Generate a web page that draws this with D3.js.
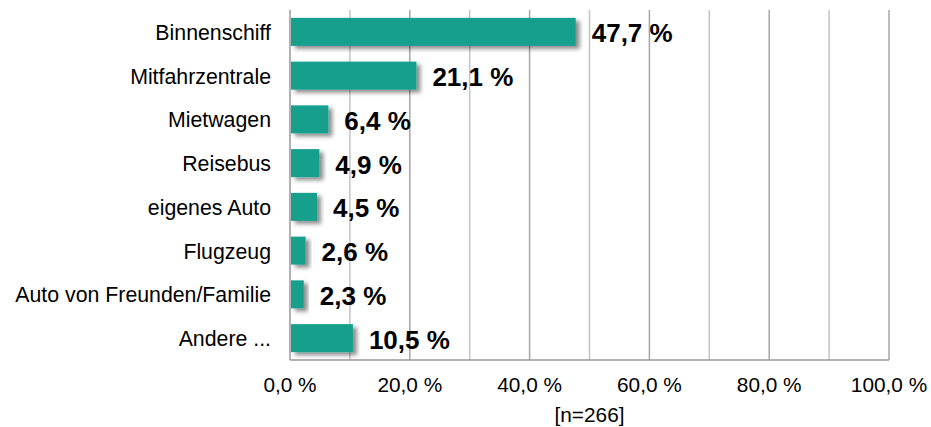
<!DOCTYPE html>
<html lang="de">
  <head>
    <meta charset="utf-8">
    <style>
      body { margin: 0; background: #fff; }
      text { font-family: "Liberation Sans", Arial, sans-serif; fill: #000; }
    </style>
  </head>
  <body>
  <div id="chart"></div>

  <script src="https://d3js.org/d3.v7.min.js"></script>
  <script>

// data
var categories = ["Binnenschiff", "Mitfahrzentrale", "Mietwagen", "Reisebus",
                  "eigenes Auto", "Flugzeug", "Auto von Freunden/Familie", "Andere ..."]
var values = [47.7, 21.1, 6.4, 4.9, 4.5, 2.6, 2.3, 10.5]
var xTicks = [0, 20, 40, 60, 80, 100]
var gridTicks = [10, 20, 30, 40, 50, 60, 70, 80, 90, 100]
var note = "[n=266]"

var width = 931,
    height = 427,
    margin = {top: 10, right: 42, bottom: 67, left: 290}

var fmt = function(v) { return d3.format(".1f")(v).replace(".", ",") + " %" }

var svg = d3.select("#chart")
  .append("svg")
    .attr("width", width)
    .attr("height", height)

// soft drop shadow like the office chart
var filter = svg.append("defs").append("filter")
    .attr("id", "shadow")
    .attr("x", "-20%").attr("y", "-20%")
    .attr("width", "160%").attr("height", "160%")
filter.append("feDropShadow")
    .attr("dx", 4).attr("dy", 3)
    .attr("stdDeviation", 2.2)
    .attr("flood-color", "#000")
    .attr("flood-opacity", 0.45)

var x = d3.scaleLinear()
  .domain([0, 100])
  .range([margin.left, width - margin.right])

var y = d3.scaleBand()
  .domain(categories)
  .range([margin.top, height - margin.bottom])
  .paddingInner(0.36)
  .paddingOuter(0.18)

// vertical gridlines
svg.append("g")
  .selectAll("line")
  .data(gridTicks)
  .join("line")
    .attr("x1", function(d) { return x(d) })
    .attr("x2", function(d) { return x(d) })
    .attr("y1", margin.top)
    .attr("y2", height - margin.bottom)
    .attr("stroke", function(d) { return d % 20 == 0 ? "#a6a6a6" : "#c4c4c4" })
    .attr("stroke-width", 1.5)

// axis lines
svg.append("line")
    .attr("x1", x(0)).attr("x2", x(0))
    .attr("y1", margin.top).attr("y2", height - margin.bottom)
    .attr("stroke", "#999").attr("stroke-width", 1.5)
svg.append("line")
    .attr("x1", x(0)).attr("x2", x(100))
    .attr("y1", height - margin.bottom).attr("y2", height - margin.bottom)
    .attr("stroke", "#999").attr("stroke-width", 1.5)

// bars
svg.append("g")
  .selectAll("rect")
  .data(values)
  .join("rect")
    .attr("x", x(0) + 1)
    .attr("y", function(d, i) { return y(categories[i]) })
    .attr("width", function(d) { return x(d) - x(0) - 1 })
    .attr("height", y.bandwidth())
    .attr("fill", "#179f8c")
    .attr("filter", "url(#shadow)")

// value labels
svg.append("g")
  .selectAll("text")
  .data(values)
  .join("text")
    .attr("x", function(d) { return x(d) + 16 })
    .attr("y", function(d, i) { return y(categories[i]) + y.bandwidth() / 2 })
    .attr("dy", "0.4em")
    .style("font-size", "26px")
    .style("font-weight", "bold")
    .text(function(d) { return fmt(d) })

// category labels
svg.append("g")
  .selectAll("text")
  .data(categories)
  .join("text")
    .attr("x", x(0) - 19)
    .attr("y", function(d) { return y(d) + y.bandwidth() / 2 })
    .attr("dy", "0.38em")
    .attr("text-anchor", "end")
    .style("font-size", "21.3px")
    .text(function(d) { return d })

// x tick labels
svg.append("g")
  .selectAll("text")
  .data(xTicks)
  .join("text")
    .attr("x", function(d) { return x(d) })
    .attr("y", 392)
    .attr("text-anchor", "middle")
    .style("font-size", "20.8px")
    .text(function(d) { return fmt(d) })

svg.append("text")
    .attr("x", (x(0) + x(100)) / 2)
    .attr("y", 422)
    .attr("text-anchor", "middle")
    .style("font-size", "20.8px")
    .text(note)

</script>
</body>
</html>
